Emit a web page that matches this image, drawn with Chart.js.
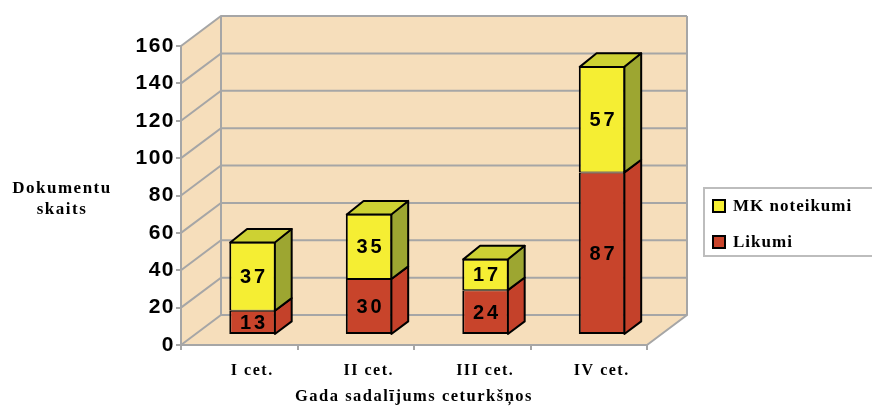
<!DOCTYPE html>
<html>
<head>
<meta charset="utf-8">
<script src="https://cdn.jsdelivr.net/npm/chart.js@4.4.1/dist/chart.umd.min.js"></script>
<style>
  html, body { margin: 0; padding: 0; background: #fff; }
  #wrap { width: 872px; height: 407px; }
</style>
</head>
<body>
<div id="wrap"><canvas id="chart"></canvas></div>
<script>
const categories = ['I cet.', 'II cet.', 'III cet.', 'IV cet.'];
const likumi = [13, 30, 24, 87];
const mkNoteikumi = [37, 35, 17, 57];
const yMax = 160;
const yStep = 20;
const yTitle = ['Dokumentu', 'skaits'];
const xTitle = 'Gada sadalījums ceturkšņos';

const GRID = '#a6a6a6';
const WALL = '#f6debb';
const DX = 40, DY = -30;          // depth of the box
const BAR_AT = 1 / 3, BAR_DEEP = 0.42;
const SANS = '"Liberation Sans", Arial, sans-serif';
const SERIF = '"Liberation Serif", "Times New Roman", serif';

const faces = [
  { front: '#c8442b', side: '#c4412a', top: '#a9371f' },
  { front: '#f5ee33', side: '#9da631', top: '#cdd133' }
];

const box3d = {
  id: 'box3d',
  beforeDraw(chart) {
    const { ctx, chartArea: a, scales: { y } } = chart;
    const y0 = y.getPixelForValue(0), yt = y.getPixelForValue(yMax);
    ctx.save();
    ctx.fillStyle = WALL;
    ctx.beginPath();
    ctx.moveTo(a.left, y0);
    ctx.lineTo(a.left, yt);
    ctx.lineTo(a.left + DX, yt + DY);
    ctx.lineTo(a.right + DX, yt + DY);
    ctx.lineTo(a.right + DX, y0 + DY);
    ctx.lineTo(a.right, y0);
    ctx.closePath();
    ctx.fill();
    ctx.strokeStyle = GRID;
    ctx.lineWidth = 2;
    for (let v = 0; v <= yMax; v += yStep) {
      const p = y.getPixelForValue(v);
      ctx.beginPath();
      ctx.moveTo(a.left, p);
      ctx.lineTo(a.left + DX, p + DY);
      ctx.lineTo(a.right + DX, p + DY);
      ctx.stroke();
    }
    ctx.beginPath();
    ctx.moveTo(a.left + DX, y0 + DY); ctx.lineTo(a.left + DX, yt + DY);
    ctx.moveTo(a.right + DX, yt + DY); ctx.lineTo(a.right + DX, y0 + DY);
    ctx.lineTo(a.right, y0);
    ctx.stroke();
    ctx.restore();
    ctx.letterSpacing = '1.5px';
  },
  beforeDatasetsDraw(chart) {
    chart.ctx.save();
    chart.ctx.translate(DX * BAR_AT, DY * BAR_AT);
  },
  afterDatasetsDraw(chart) {
    const ctx = chart.ctx;
    const bx = DX * BAR_DEEP, by = DY * BAR_DEEP;
    const last = chart.data.datasets.length - 1;
    ctx.lineWidth = 2;
    ctx.lineJoin = 'round';
    ctx.strokeStyle = '#000';
    chart.data.datasets.forEach((ds, di) => {
      chart.getDatasetMeta(di).data.forEach((bar) => {
        const { x, y, base, width } = bar.getProps(['x', 'y', 'base', 'width'], true);
        const l = x - width / 2, r = x + width / 2 - 1;
        ctx.fillStyle = faces[di].side;
        ctx.beginPath();
        ctx.moveTo(r, y); ctx.lineTo(r + bx, y + by);
        ctx.lineTo(r + bx, base + by); ctx.lineTo(r, base);
        ctx.closePath(); ctx.fill(); ctx.stroke();
        if (di === last) {
          ctx.fillStyle = faces[di].top;
          ctx.beginPath();
          ctx.moveTo(l + 1, y + 1); ctx.lineTo(l + 1 + bx, y + by);
          ctx.lineTo(r + bx, y + by); ctx.lineTo(r, y + 1);
          ctx.closePath(); ctx.fill(); ctx.stroke();
        }
      });
    });
    ctx.font = 'bold 20px ' + SANS;
    ctx.letterSpacing = '3px';
    ctx.fillStyle = '#000';
    ctx.textAlign = 'center';
    ctx.textBaseline = 'middle';
    chart.data.datasets.forEach((ds, di) => {
      chart.getDatasetMeta(di).data.forEach((bar, i) => {
        const { x, y, base } = bar.getProps(['x', 'y', 'base'], true);
        ctx.fillText(String(ds.data[i]), x + 1.5, (y + base) / 2 + 1);
      });
    });
    ctx.restore();
  },
  afterDraw(chart) {
    const ctx = chart.ctx;
    ctx.save();
    ctx.letterSpacing = '1.5px';
    ctx.fillStyle = '#000';
    ctx.textAlign = 'center';
    ctx.textBaseline = 'middle';
    ctx.font = 'bold 17px ' + SERIF;
    ctx.fillText(yTitle[0], 62, 189);
    ctx.fillText(yTitle[1], 62, 210);

    // legend box
    ctx.fillStyle = '#fff';
    ctx.strokeStyle = '#bdbdbd';
    ctx.lineWidth = 2;
    ctx.fillRect(704, 188, 175, 68);
    ctx.strokeRect(704, 188, 175, 68);
    const items = chart.data.datasets.slice().reverse();
    ctx.textAlign = 'left';
    ctx.letterSpacing = '1px';
    items.forEach((ds, k) => {
      const cy = 206 + k * 36;
      ctx.fillStyle = ds.backgroundColor;
      ctx.fillRect(713, cy - 6, 12, 12);
      ctx.strokeStyle = '#000';
      ctx.strokeRect(713, cy - 6, 12, 12);
      ctx.fillStyle = '#000';
      ctx.font = 'bold 17px ' + SERIF;
      ctx.fillText(ds.label, 733, cy + 1);
    });
    ctx.restore();
  }
};

new Chart(document.getElementById('chart'), {
  type: 'bar',
  data: {
    labels: categories,
    datasets: [
      {
        label: 'Likumi', data: likumi, backgroundColor: faces[0].front,
        borderColor: '#000', borderWidth: { left: 2, right: 2, bottom: 2, top: 1 }, borderSkipped: false
      },
      {
        label: 'MK noteikumi', data: mkNoteikumi, backgroundColor: faces[1].front,
        borderColor: '#000', borderWidth: { left: 2, right: 2, bottom: 1, top: 2 }, borderSkipped: false
      }
    ]
  },
  options: {
    responsive: true,
    maintainAspectRatio: false,
    devicePixelRatio: 1,
    animation: false,
    layout: { padding: { left: 0, top: 46, right: 225, bottom: 0 } },
    datasets: { bar: { barPercentage: 0.4, categoryPercentage: 1, clip: false } },
    plugins: { legend: { display: false }, tooltip: { enabled: false } },
    scales: {
      x: {
        stacked: true,
        afterFit: (s) => { s.height = 62; },
        grid: { drawOnChartArea: false, drawTicks: true, tickLength: 5, color: GRID, lineWidth: 2 },
        border: { display: true, color: GRID, width: 2 },
        ticks: { color: '#000', padding: 11, labelOffset: 13, font: { family: SERIF, size: 16, weight: 'bold' } },
        title: { display: true, text: xTitle, color: '#000', padding: { top: 0, bottom: 0 },
          font: { family: SERIF, size: 16.5, weight: 'bold' } }
      },
      y: {
        stacked: true,
        min: 0, max: yMax,
        afterFit: (s) => { s.width = 181; },
        grid: { drawOnChartArea: false, drawTicks: true, tickLength: 5, color: GRID, lineWidth: 2 },
        border: { display: true, color: GRID, width: 2 },
        ticks: { stepSize: yStep, color: '#000', padding: 1, font: { family: SANS, size: 21, weight: 'bold' } }
      }
    }
  },
  plugins: [box3d]
});
</script>
</body>
</html>
